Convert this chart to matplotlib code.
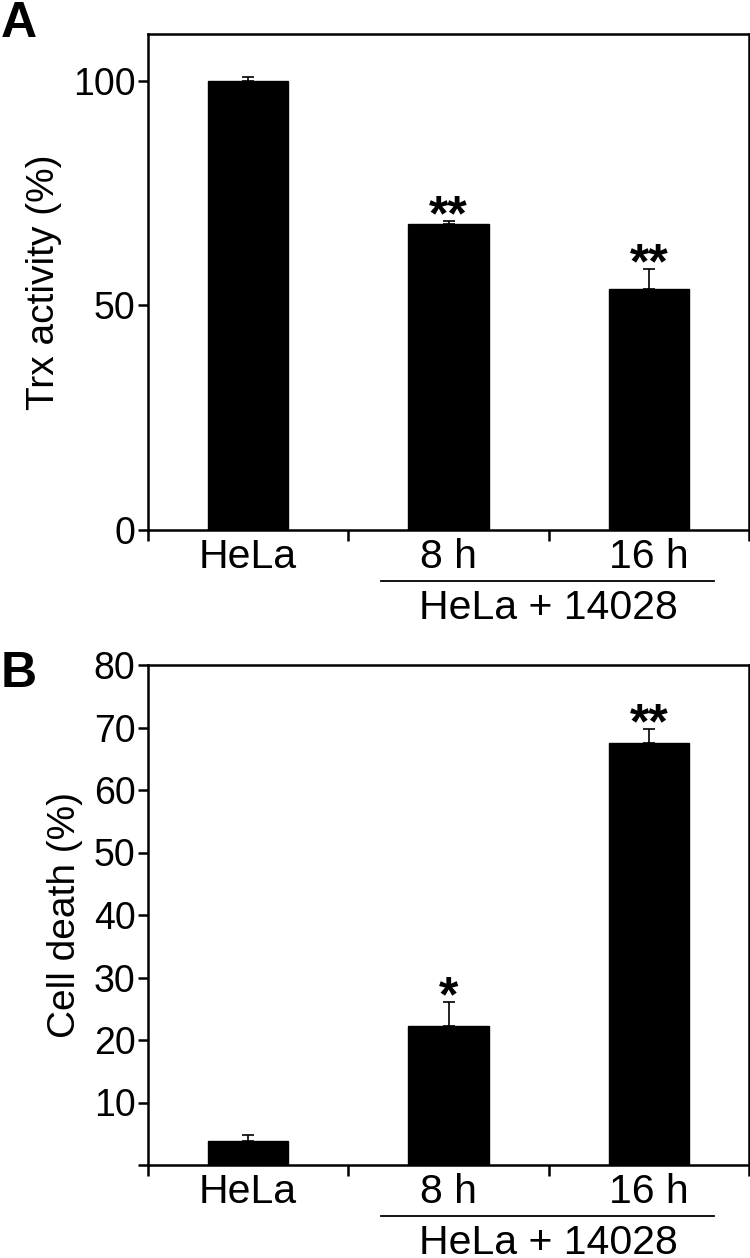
import matplotlib
matplotlib.use("Agg")
import matplotlib.pyplot as plt
from matplotlib.lines import Line2D
from matplotlib.transforms import ScaledTranslation

plt.rcParams['font.family'] = ['Liberation Sans', 'DejaVu Sans']

categories = ['HeLa', '8 h', '16 h']
group_label = 'HeLa + 14028'

trx_values = [100.0, 68.2, 53.7]
trx_errors = [0.9, 0.5, 4.4]
trx_marks = ['', '**', '**']

death_values = [3.8, 22.3, 67.5]
death_errors = [1.0, 3.8, 2.2]
death_marks = ['', '*', '**']

W, H = 750, 1258
fig = plt.figure(figsize=(W / 100, H / 100), dpi=100)

def make_axes(top_px, bottom_px):
    left_px, right_px = 148, 749
    return fig.add_axes([left_px / W, 1 - bottom_px / H,
                         (right_px - left_px) / W, (bottom_px - top_px) / H])

axA = make_axes(34, 530)
axB = make_axes(665, 1165)

FS_TICK = 27
FS_CAT = 29.5
FS_LAB = 28

def draw(ax, values, errors, marks, ylim, yticks, yticklabels, ylabel):
    x = list(range(len(values)))
    ax.bar(x, values, width=0.4, color='black', edgecolor='black', zorder=2)
    ax.errorbar(x, values, yerr=[[0] * len(errors), errors], fmt='none',
                ecolor='black', elinewidth=1.2, capsize=4, capthick=1.2, zorder=3)
    for xi, v, e, m in zip(x, values, errors, marks):
        if m:
            ax.annotate(m, xy=(xi, v + e), xytext=(0, -9), textcoords='offset pixels',
                        ha='center', va='baseline', fontsize=36, fontweight='bold')
    ax.set_xlim(-0.5, len(values) - 0.5)
    ax.set_ylim(*ylim)
    ax.set_xticks([i - 0.5 for i in range(len(values) + 1)])
    ax.set_xticklabels([])
    ax.set_xticks(x, minor=True)
    ax.set_xticklabels(categories, minor=True, fontsize=FS_CAT)
    ax.tick_params(axis='x', which='minor', length=0, pad=6)
    ax.tick_params(axis='x', which='major', direction='out', length=8, width=1.8)
    ax.set_yticks(yticks)
    ax.set_yticklabels(yticklabels, fontsize=FS_TICK)
    ax.tick_params(axis='y', direction='out', length=7, width=1.8, pad=2)
    for s in ax.spines.values():
        s.set_linewidth(1.8)
    ax.set_ylabel(ylabel, fontsize=FS_LAB, labelpad=8)
    tr = ax.get_xaxis_transform()
    ax.add_line(Line2D([0.665, 2.325], [0, 0],
                       transform=tr + ScaledTranslation(0, -51 / 100, fig.dpi_scale_trans),
                       color='black', linewidth=1.3, clip_on=False))
    ax.annotate(group_label, xy=(1.5, 0), xycoords=tr, xytext=(0, -78),
                textcoords='offset pixels', ha='center', va='center', fontsize=FS_CAT)

draw(axA, trx_values, trx_errors, trx_marks, (0, 110.4), [0, 50, 100],
     ['0', '50', '100'], 'Trx activity (%)')
draw(axB, death_values, death_errors, death_marks, (0, 80),
     [0, 10, 20, 30, 40, 50, 60, 70, 80],
     ['', '10', '20', '30', '40', '50', '60', '70', '80'], 'Cell death (%)')

fig.text(1 / W, 1 - 1 / H, 'A', fontsize=36, fontweight='bold', ha='left', va='top')
fig.text(1 / W, 1 - 651 / H, 'B', fontsize=36, fontweight='bold', ha='left', va='top')

fig.savefig('out.png', dpi=100)
